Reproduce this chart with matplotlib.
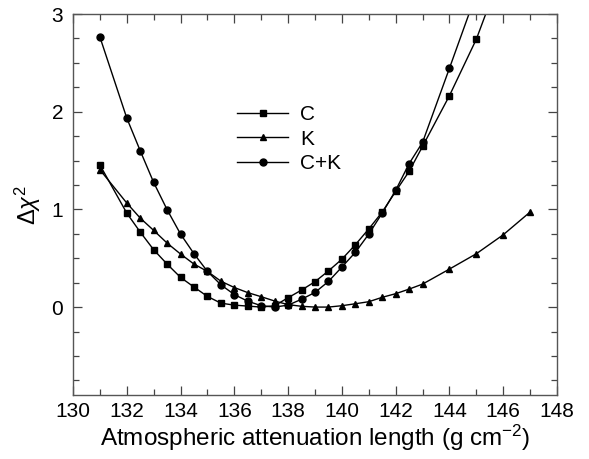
#!/usr/bin/env python3
# Delta chi^2 versus atmospheric attenuation length for C, K and C+K fits.

import numpy as np
import matplotlib
matplotlib.use('Agg')
import matplotlib.pyplot as plt
from matplotlib.ticker import MultipleLocator

plt.rcParams['font.family'] = ['Liberation Sans', 'DejaVu Sans']
plt.rcParams['mathtext.fontset'] = 'custom'
plt.rcParams['mathtext.rm'] = 'Liberation Sans'
plt.rcParams['mathtext.it'] = 'Liberation Sans:italic'

# DATA
x_c = [131, 132, 132.5, 133, 133.5, 134, 134.5, 135, 135.5, 136, 136.5, 137,
       137.5, 138, 138.5, 139, 139.5, 140, 140.5, 141, 141.5, 142, 142.5,
       143, 144, 145, 146]
dchi_c = [1.455, 0.962, 0.768, 0.587, 0.44, 0.304, 0.205, 0.109, 0.04, 0.02,
          0.01, 0.0, 0.014, 0.096, 0.174, 0.26, 0.37, 0.49, 0.638, 0.8,
          0.973, 1.184, 1.389, 1.645, 2.164, 2.742, 3.48]

x_k = [131, 132, 132.5, 133, 133.5, 134, 134.5, 135, 135.5, 136, 136.5, 137,
       137.5, 138, 138.5, 139, 139.5, 140, 140.5, 141, 141.5, 142, 142.5,
       143, 144, 145, 146, 147]
dchi_k = [1.406, 1.065, 0.911, 0.785, 0.655, 0.543, 0.44, 0.365, 0.265,
          0.2, 0.148, 0.106, 0.062, 0.025, 0.008, 0.0, 0.0, 0.014, 0.034,
          0.055, 0.1, 0.137, 0.184, 0.235, 0.389, 0.546, 0.74, 0.973]

x_ck = [131, 132, 132.5, 133, 133.5, 134, 134.5, 135, 135.5, 136, 136.5, 137,
        137.5, 138, 138.5, 139, 139.5, 140, 140.5, 141, 141.5, 142, 142.5,
        143, 144, 145]
dchi_ck = [2.765, 1.935, 1.60, 1.276, 0.997, 0.747, 0.546, 0.365, 0.228,
           0.128, 0.06, 0.014, 0.0, 0.02, 0.08, 0.15, 0.262, 0.41, 0.56,
           0.747, 0.962, 1.195, 1.468, 1.686, 2.445, 3.21]

series = [
    ('C', x_c, dchi_c, 's', 4.0),
    ('K', x_k, dchi_k, '^', 4.5),
    ('C+K', x_ck, dchi_ck, 'o', 5.0),
]

# PLOTTING
fig = plt.figure(figsize=(5.89, 4.59), dpi=100)
ax = fig.add_axes([73 / 589, 1 - 395 / 459, (557 - 73) / 589, (395 - 14) / 459])

for name, xs, ys, marker, ms in series:
    ax.plot(xs, ys, color='black', lw=1.0, marker=marker, markersize=ms,
            label=name)

ax.set_xlim(130, 148)
ax.set_ylim(-0.9, 3)
ax.xaxis.set_major_locator(MultipleLocator(2))
ax.xaxis.set_minor_locator(MultipleLocator(1))
ax.yaxis.set_minor_locator(MultipleLocator(0.25))
ax.set_yticks([0, 1, 2, 3])
ax.tick_params(which='both', direction='in', top=True, right=True,
               labelsize=15, width=0.9, color='#444444')
ax.tick_params(which='major', length=6.5)
ax.tick_params(which='minor', length=4.5)
ax.tick_params(axis='x', which='major', pad=5)
ax.tick_params(axis='y', which='major', pad=7)
for sp in ax.spines.values():
    sp.set_color('#555555')
    sp.set_linewidth(1.0)

ax.set_xlabel('Atmospheric attenuation length (g cm$^{-2}$)', fontsize=17.5,
              labelpad=1)
ax.set_ylabel(r'$\Delta\chi^2$', fontsize=17, labelpad=6)

ax.legend(loc='upper left', bbox_to_anchor=(0.322, 0.782), frameon=False,
          fontsize=15, handlelength=2.45, handletextpad=0.58,
          labelspacing=0.25, numpoints=1, borderaxespad=0)

plt.savefig('out.png', dpi=100)
plt.close()
